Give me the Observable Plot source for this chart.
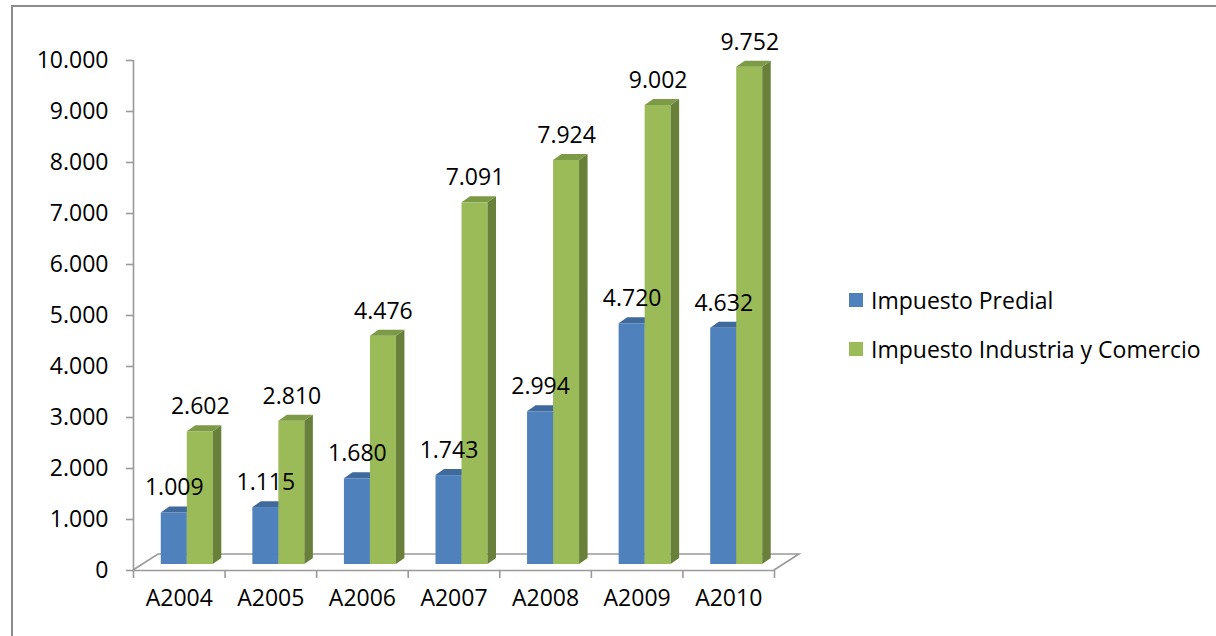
<!DOCTYPE html>
<html>
<head>
<meta charset="utf-8">
<script src="https://cdn.jsdelivr.net/npm/d3@7"></script>
<script src="https://cdn.jsdelivr.net/npm/@observablehq/plot@0.6"></script>
<style>
html, body { margin: 0; padding: 0; background: #fff; }
#wrap { position: relative; width: 1216px; height: 636px; overflow: hidden; font-family: "Open Sans", sans-serif; }
#border { position: absolute; left: 11px; top: 5px; width: 1300px; height: 800px; border-left: 2px solid #8c8c8c; border-top: 2px solid #8c8c8c; }
#chart { position: absolute; left: 0; top: 0; }
.leg { position: absolute; left: 849px; height: 24px; line-height: 24px; font-size: 23px; color: #000; white-space: nowrap; display: flex; align-items: center; }
.sw { display: inline-block; width: 14px; height: 14px; margin-right: 8px; }
</style>
</head>
<body>
<div id="wrap">
  <div id="border"></div>
  <div id="chart"></div>
  <div id="legend"></div>
</div>
<script>
// ---- data ----
const categories = ["A2004", "A2005", "A2006", "A2007", "A2008", "A2009", "A2010"];
const predial = [1009, 1115, 1680, 1743, 2994, 4720, 4632];
const industria = [2602, 2810, 4476, 7091, 7924, 9002, 9752];
const seriesNames = ["Impuesto Predial", "Impuesto Industria y Comercio"];
const yTicks = [0, 1000, 2000, 3000, 4000, 5000, 6000, 7000, 8000, 9000, 10000];

// ---- styles ----
const frontColors = ["#4F81BD", "#9BBB59"];
const sideColors = ["#3A6390", "#68803A"];
const topColors = ["#40699C", "#7D9B46"];
const gray = "#9a9a9a";
const fmt = d => d3.format(",")(d).replace(/,/g, ".");

const rows = categories.flatMap((c, i) => [
  {cat: c, i, s: 0, series: seriesNames[0], value: predial[i]},
  {cat: c, i, s: 1, series: seriesNames[1], value: industria[i]}
]);

const barW = 0.284;     // bar width in category units
const OX = 8, OY = -6;  // placement of bars inside the 3D floor (px)
const DX = 8.5, DY = -6; // bar depth (px)
const FX = 25, FY = -16; // floor depth (px)

const chart = Plot.plot({
  width: 1216,
  height: 636,
  marginLeft: 133,
  marginRight: 442,
  marginTop: 60,
  marginBottom: 66,
  style: {fontFamily: "'Open Sans', sans-serif", fontSize: "23px", background: "transparent", color: "#000"},
  x: {domain: [0, categories.length], axis: null},
  y: {domain: [0, 10000], label: null},
  marks: [
    // floor (3D base)
    Plot.ruleY([0], {
      x1: 0, x2: categories.length,
      render(index, scales) {
        const x0 = scales.x(0), x1 = scales.x(categories.length), y0 = scales.y(0);
        const g = d3.create("svg:g");
        g.append("path")
          .attr("d", `M${x0},${y0}L${x0 + FX},${y0 + FY}L${x1 + FX},${y0 + FY}L${x1},${y0}`)
          .attr("fill", "none").attr("stroke", gray).attr("stroke-width", 1.6);
        return g.node();
      }
    }),
    // front edge of floor (x axis line)
    Plot.ruleY([0], {x1: 0, x2: categories.length, stroke: gray, strokeWidth: 1.6}),
    // y axis line
    Plot.ruleX([0], {y1: 0, y2: 10000, stroke: gray, strokeWidth: 1.6}),
    Plot.axisY({ticks: yTicks, tickSize: 7, tickPadding: 18, tickFormat: fmt, stroke: gray, strokeWidth: 1.6, fill: "#000", fontSize: 23}),
    // x ticks between categories
    Plot.axisX({ticks: d3.range(categories.length + 1), tickSize: 8, tickFormat: () => "", stroke: gray, strokeWidth: 1.6}),
    // category labels
    Plot.text(categories, {x: (d, i) => i + 0.5, frameAnchor: "bottom", dy: 35, text: d => d, fill: "#000", fontSize: 23}),
    // 3D bars
    Plot.rect(rows, {
      x1: d => d.i + 0.5 - (d.s === 0 ? barW : 0),
      x2: d => d.i + 0.5 + (d.s === 1 ? barW : 0),
      y1: 0,
      y2: "value",
      fill: d => frontColors[d.s],
      render(index, scales, values) {
        const g = d3.create("svg:g");
        for (const i of index) {
          const s = rows[i].s;
          const x1 = values.x1[i] + OX, x2 = values.x2[i] + OX;
          const yb = values.y1[i] + OY, yt = values.y2[i] + OY;
          g.append("rect").attr("x", x1).attr("y", yt).attr("width", x2 - x1).attr("height", yb - yt)
            .attr("fill", frontColors[s]);
          g.append("path").attr("d", `M${x2},${yb}L${x2 + DX},${yb + DY}L${x2 + DX},${yt + DY}L${x2},${yt}Z`)
            .attr("fill", sideColors[s]);
          g.append("path").attr("d", `M${x1},${yt}L${x1 + DX},${yt + DY}L${x2 + DX},${yt + DY}L${x2},${yt}Z`)
            .attr("fill", topColors[s]);
        }
        return g.node();
      }
    }),
    // value labels
    Plot.text(rows, {
      x: d => d.i + 0.5 + (d.s === 0 ? -barW / 2 : barW / 2),
      y: "value",
      text: d => fmt(d.value),
      dx: OX,
      dy: -31,
      fill: "#000",
      fontSize: 23
    })
  ]
});
document.getElementById("chart").appendChild(chart);

// legend (right side)
const legendTops = [288, 337];
const legend = document.getElementById("legend");
seriesNames.forEach((name, k) => {
  const el = document.createElement("div");
  el.className = "leg";
  el.style.top = legendTops[k] + "px";
  el.innerHTML = `<span class="sw" style="background:${frontColors[k]}"></span><span>${name}</span>`;
  legend.appendChild(el);
});
</script>
</body>
</html>
